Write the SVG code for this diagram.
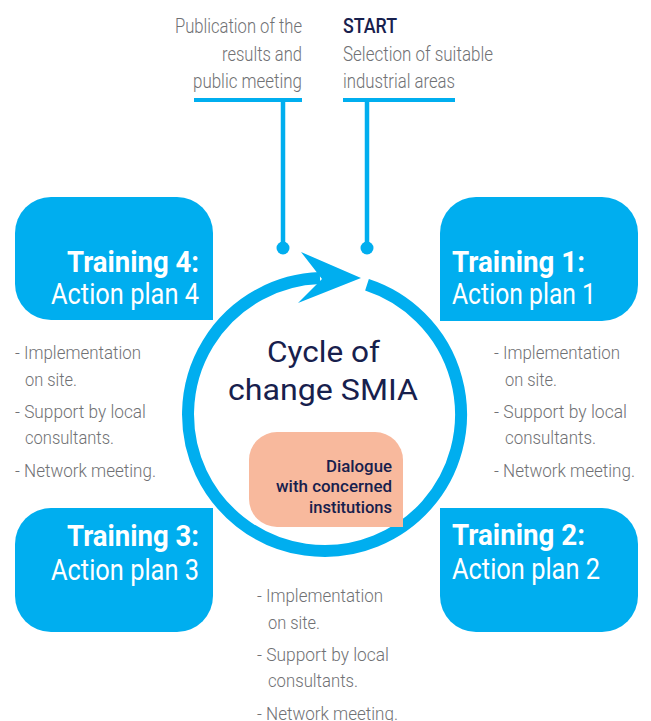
<svg xmlns="http://www.w3.org/2000/svg" width="651" height="721" viewBox="0 0 651 721">
<style>
.box{fill:#00AEEF}
.ttl{font-family:Roboto,"Liberation Sans",sans-serif;font-weight:700;font-size:29px;fill:#ffffff}
.sub{font-family:Roboto,"Liberation Sans",sans-serif;font-weight:400;font-size:29px;fill:#ffffff}
.cap{font-family:Roboto,"Liberation Sans",sans-serif;font-weight:300;font-size:20px;fill:#707174}
.capb{font-family:Roboto,"Liberation Sans",sans-serif;font-weight:500;font-size:20px;fill:#17204d}
.bul{font-family:Roboto,"Liberation Sans",sans-serif;font-weight:300;font-size:18px;fill:#707174}
.cyc{font-family:Roboto,"Liberation Sans",sans-serif;font-weight:400;font-size:29px;fill:#17204d}
.dlg{font-family:Roboto,"Liberation Sans",sans-serif;font-weight:500;font-size:17px;fill:#17204d}
.ln{stroke:#00AEEF;stroke-width:4.5;fill:none}
.dot{fill:#00AEEF}
</style>

<g id="caption-publication">
<text class="cap" x="302" y="33" text-anchor="end" textLength="127" lengthAdjust="spacingAndGlyphs">Publication of the</text>
<text class="cap" x="302" y="61" text-anchor="end" textLength="80" lengthAdjust="spacingAndGlyphs">results and</text>
<text class="cap" x="302" y="88" text-anchor="end" textLength="109" lengthAdjust="spacingAndGlyphs">public meeting</text>
<rect x="194" y="98" width="108" height="4" class="dot"/>
</g>

<g id="caption-start">
<text class="capb" x="343" y="33" textLength="54" lengthAdjust="spacingAndGlyphs">START</text>
<text class="cap" x="343" y="61" textLength="150" lengthAdjust="spacingAndGlyphs">Selection of suitable</text>
<text class="cap" x="343" y="88" textLength="112" lengthAdjust="spacingAndGlyphs">industrial areas</text>
<rect x="343" y="98" width="112" height="4" class="dot"/>
</g>

<g id="connectors">
<line class="ln" x1="283" y1="100" x2="283" y2="248"/>
<circle class="dot" cx="283" cy="248" r="6.5"/>
<line class="ln" x1="367" y1="100" x2="367" y2="248"/>
<circle class="dot" cx="367" cy="248" r="6.5"/>
</g>

<g id="cycle">
<path d="M 367 284.8 A 136.5 136.5 0 1 1 320 278.1" fill="none" stroke="#00AEEF" stroke-width="12"/>
<polygon class="dot" points="361,278 301,252 322,279 298,303"/>
<text class="cyc" x="323.5" y="362" text-anchor="middle" textLength="113" lengthAdjust="spacingAndGlyphs">Cycle of</text>
<text class="cyc" x="323" y="400" text-anchor="middle" textLength="190" lengthAdjust="spacingAndGlyphs">change SMIA</text>
</g>

<g id="dialogue">
<path d="M 277 432 H 375 A 28 28 0 0 1 403 460 V 527 H 277 A 28 28 0 0 1 249 499 V 460 A 28 28 0 0 1 277 432 Z" fill="#F8B99D"/>
<text class="dlg" x="392" y="472" text-anchor="end" textLength="66" lengthAdjust="spacingAndGlyphs">Dialogue</text>
<text class="dlg" x="392" y="492" text-anchor="end" textLength="116" lengthAdjust="spacingAndGlyphs">with concerned</text>
<text class="dlg" x="392" y="513" text-anchor="end" textLength="83" lengthAdjust="spacingAndGlyphs">institutions</text>
</g>

<g id="training4">
<path class="box" d="M 51 197 H 177 A 36 36 0 0 1 213 233 V 320 H 51 A 36 36 0 0 1 15 284 V 233 A 36 36 0 0 1 51 197 Z"/>
<text class="ttl" x="199" y="272" text-anchor="end" textLength="132" lengthAdjust="spacingAndGlyphs">Training 4:</text>
<text class="sub" x="199" y="304" text-anchor="end" textLength="148" lengthAdjust="spacingAndGlyphs">Action plan 4</text>
</g>

<g id="training1">
<path class="box" d="M 476 197 H 602 A 36 36 0 0 1 638 233 V 285 A 36 36 0 0 1 602 321 H 440 V 233 A 36 36 0 0 1 476 197 Z"/>
<text class="ttl" x="452" y="272" textLength="133" lengthAdjust="spacingAndGlyphs">Training 1:</text>
<text class="sub" x="452" y="304" textLength="144" lengthAdjust="spacingAndGlyphs">Action plan 1</text>
</g>

<g id="training3">
<path class="box" d="M 51 508 H 213 V 596 A 36 36 0 0 1 177 632 H 51 A 36 36 0 0 1 15 596 V 544 A 36 36 0 0 1 51 508 Z"/>
<text class="ttl" x="199" y="546" text-anchor="end" textLength="132" lengthAdjust="spacingAndGlyphs">Training 3:</text>
<text class="sub" x="199" y="580" text-anchor="end" textLength="148" lengthAdjust="spacingAndGlyphs">Action plan 3</text>
</g>

<g id="training2">
<path class="box" d="M 440 508 H 602 A 36 36 0 0 1 638 544 V 596 A 36 36 0 0 1 602 632 H 476 A 36 36 0 0 1 440 596 Z"/>
<text class="ttl" x="452" y="545" textLength="133" lengthAdjust="spacingAndGlyphs">Training 2:</text>
<text class="sub" x="452" y="579" textLength="148" lengthAdjust="spacingAndGlyphs">Action plan 2</text>
</g>

<g id="bullets-left">
<text class="bul" x="15" y="359" textLength="126" lengthAdjust="spacingAndGlyphs">- Implementation</text>
<text class="bul" x="25" y="386" textLength="52" lengthAdjust="spacingAndGlyphs">on site.</text>
<text class="bul" x="15" y="418" textLength="131" lengthAdjust="spacingAndGlyphs">- Support by local</text>
<text class="bul" x="25" y="444" textLength="89" lengthAdjust="spacingAndGlyphs">consultants.</text>
<text class="bul" x="15" y="477" textLength="141" lengthAdjust="spacingAndGlyphs">- Network meeting.</text>
</g>

<g id="bullets-right">
<text class="bul" x="494" y="359" textLength="126" lengthAdjust="spacingAndGlyphs">- Implementation</text>
<text class="bul" x="505" y="386" textLength="52" lengthAdjust="spacingAndGlyphs">on site.</text>
<text class="bul" x="494" y="418" textLength="133" lengthAdjust="spacingAndGlyphs">- Support by local</text>
<text class="bul" x="505" y="444" textLength="91" lengthAdjust="spacingAndGlyphs">consultants.</text>
<text class="bul" x="494" y="477" textLength="141" lengthAdjust="spacingAndGlyphs">- Network meeting.</text>
</g>

<g id="bullets-bottom">
<text class="bul" x="257" y="602" textLength="126" lengthAdjust="spacingAndGlyphs">- Implementation</text>
<text class="bul" x="268" y="629" textLength="52" lengthAdjust="spacingAndGlyphs">on site.</text>
<text class="bul" x="257" y="661" textLength="132" lengthAdjust="spacingAndGlyphs">- Support by local</text>
<text class="bul" x="268" y="687" textLength="90" lengthAdjust="spacingAndGlyphs">consultants.</text>
<text class="bul" x="257" y="720" textLength="141" lengthAdjust="spacingAndGlyphs">- Network meeting.</text>
</g>
</svg>
